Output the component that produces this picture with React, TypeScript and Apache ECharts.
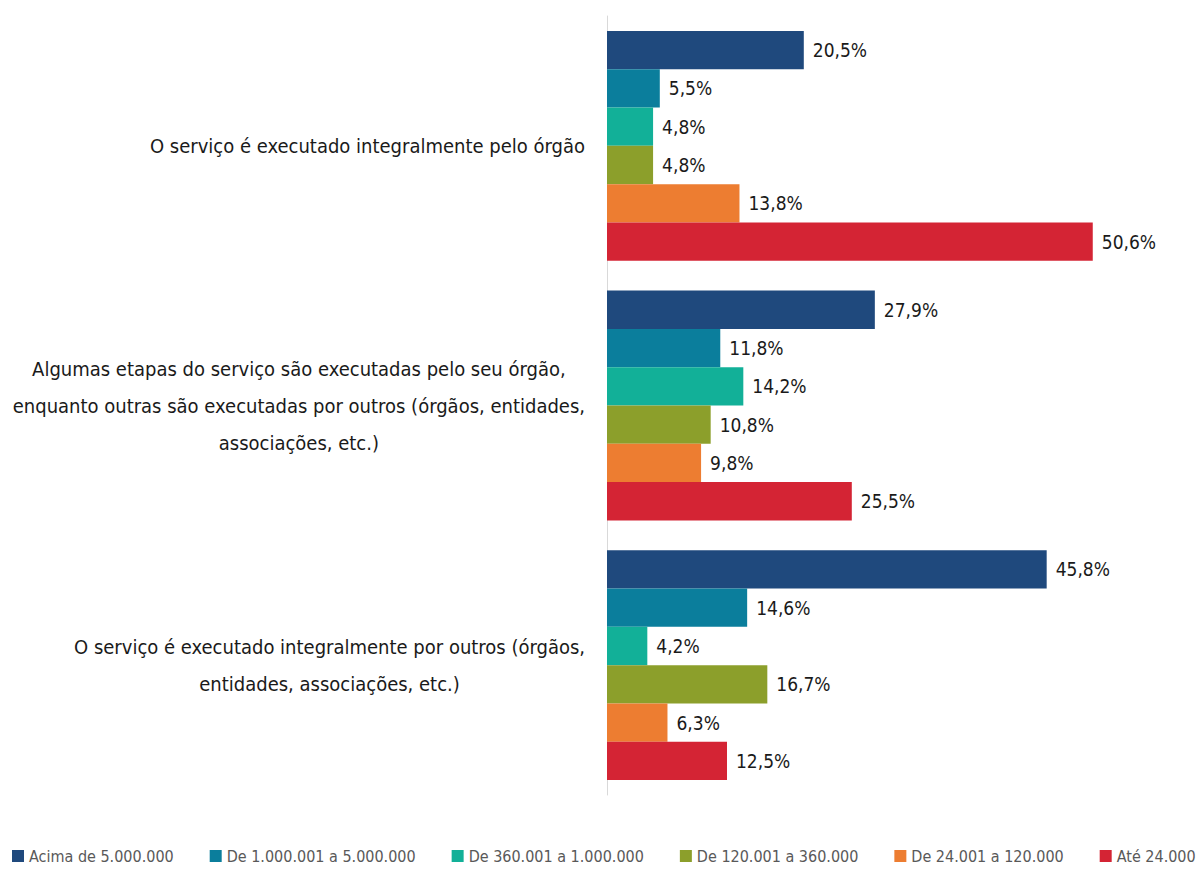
import React, { useEffect, useRef } from "react";
import * as echarts from "echarts";

const categories = [
  "O serviço é executado integralmente pelo órgão",
  "Algumas etapas do serviço são executadas pelo seu órgão,\nenquanto outras são executadas por outros (órgãos, entidades,\nassociações, etc.)",
  "O serviço é executado integralmente por outros (órgãos,\nentidades, associações, etc.)",
];

const seriesNames = [
  "Acima de 5.000.000",
  "De 1.000.001 a 5.000.000",
  "De 360.001 a 1.000.000",
  "De 120.001 a 360.000",
  "De 24.001 a 120.000",
  "Até 24.000",
];

const acima5m = [20.5, 27.9, 45.8];
const de1mA5m = [5.5, 11.8, 14.6];
const de360kA1m = [4.8, 14.2, 4.2];
const de120kA360k = [4.8, 10.8, 16.7];
const de24kA120k = [13.8, 9.8, 6.3];
const ate24k = [50.6, 25.5, 12.5];

const seriesValues = [acima5m, de1mA5m, de360kA1m, de120kA360k, de24kA120k, ate24k];
const colors = ["#1F497D", "#0B7E9C", "#12B098", "#8C9F2B", "#ED7D31", "#D42434"];

const FONT = "'Liberation Sans Narrow', 'DejaVu Sans Condensed', 'Liberation Sans', Arial, sans-serif";

export default function App() {
  const ref = useRef<HTMLDivElement>(null);
  useEffect(() => {
    if (!ref.current) return;
    const chart = echarts.init(ref.current, undefined, { renderer: "svg" });
    chart.setOption({
      animation: false,
      textStyle: { fontFamily: FONT },
      grid: { left: 599, right: 21, top: 8, height: 779, containLabel: false },
      legend: {
        top: 840,
        left: 4,
        padding: 0,
        itemWidth: 12,
        itemHeight: 12,
        itemGap: 36,
        icon: "rect",
        textStyle: { fontSize: 16, color: "#595959", fontFamily: FONT },
        data: seriesNames,
      },
      xAxis: {
        type: "value",
        min: 0,
        max: 60,
        show: false,
      },
      yAxis: {
        type: "category",
        inverse: true,
        data: categories,
        axisLine: { show: true, lineStyle: { color: "#D9D9D9", width: 1 } },
        axisTick: { show: false },
        axisLabel: {
          color: "#1a1a1a",
          align: "right",
          margin: 22,
          fontFamily: FONT,
          formatter: (v: string) =>
            v
              .split("\n")
              .map((l) => `{c|${l}}`)
              .join("\n"),
          rich: {
            c: {
              align: "center",
              fontSize: 20,
              lineHeight: 37,
              color: "#1a1a1a",
              fontFamily: FONT,
            },
          },
        },
      },
      series: seriesNames.map((name, i) => ({
        name,
        type: "bar",
        data: seriesValues[i],
        barGap: "0%",
        barCategoryGap: "11.5%",
        itemStyle: { color: colors[i] },
        label: {
          show: true,
          position: "right",
          distance: 9,
          fontSize: 19,
          color: "#1a1a1a",
          fontFamily: FONT,
          formatter: (p: any) => p.value.toFixed(1).replace(".", ",") + "%",
        },
      })),
    });
    return () => chart.dispose();
  }, []);
  return (
    <div
      ref={ref}
      style={{ position: "absolute", left: 8, top: 8, width: 1196, height: 863 }}
    />
  );
}
